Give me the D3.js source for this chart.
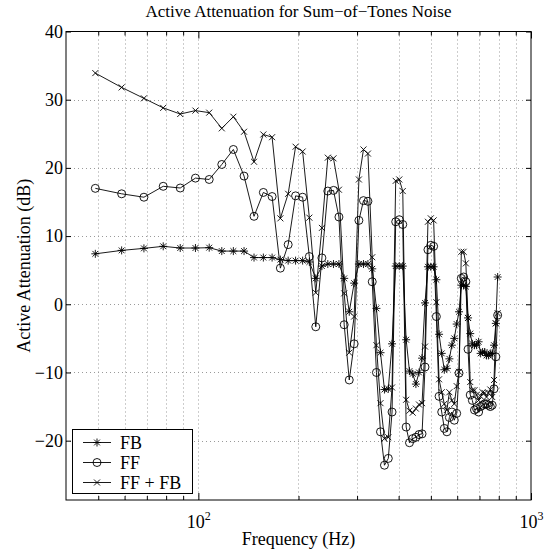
<!DOCTYPE html>
<html><head><meta charset="utf-8">
<script src="https://cdn.jsdelivr.net/npm/d3@7"></script>
<style>
html,body{margin:0;padding:0;background:#fff;}
</style></head>
<body><svg id="chart" width="548" height="554"></svg>
<script>
// Frequencies (Hz) of the tones
const freq = [49, 58.8, 68.6, 78.4, 88.2, 98, 107.8, 117.6, 127.4, 137.2,
  147, 156.8, 166.6, 176.4, 186.2, 196, 205.8, 215.6, 225.4, 235.2,
  245, 254.8, 264.6, 274.4, 284.2, 294, 303.8, 313.6, 323.4, 333.2,
  343, 352.8, 362.6, 372.4, 382.2, 392, 401.8, 411.6, 421.4, 431.2,
  441, 450.8, 460.6, 470.4, 480.2, 490, 499.8, 509.6, 519.4, 529.2,
  539, 548.8, 558.6, 568.4, 578.2, 588, 597.8, 607.6, 617.4, 627.2,
  637, 646.8, 656.6, 666.4, 676.2, 686, 695.8, 705.6, 715.4, 725.2,
  735, 744.8, 754.6, 764.4, 774.2, 784, 793.8];
const fb = [7.4, 7.9, 8.2, 8.5, 8.25, 8.25, 8.3, 7.8, 7.8, 7.8,
  6.85, 6.85, 6.85, 6.55, 6.4, 6.4, 6.4, 6.2, 3.8, 5.6,
  5.9, 5.9, 5.9, 3.8, -1.1, 3.1, 5.9, 5.9, 5.9, 5.2,
  -0.6, -7.1, -12.5, -12.4, -5.8, 5.6, 5.6, 5.6, -5.2, -9.8,
  -10.2, -11.7, -10.0, -7.9, 0.2, 5.5, 5.5, 5.5, 3.6, -4.4,
  -7.2, -9.6, -9.4, -8.0, -6.0, -5.0, -2.9, -1.1, 2.8, 2.8,
  2.6, -2.0, -4.3, -5.8, -6.0, -6.0, -5.5, -7.2, -7.0, -7.0,
  -7.5, -7.5, -7.2, -7.2, -6.0, -2.8, 4.0];
const ff = [17.0, 16.2, 15.7, 17.3, 17.05, 18.5, 18.3, 20.5, 22.7, 18.8,
  12.9, 16.4, 15.8, 5.3, 8.75, 15.9, 15.7, 7.0, -3.3, 6.8,
  16.6, 16.7, 12.8, -3.0, -11.1, -5.8, 12.3, 15.2, 15.1, 3.3,
  -10.0, -18.7, -23.6, -22.6, -15.8, 12.1, 12.4, 11.7, -18.0, -20.3,
  -19.7, -19.5, -19.1, -19.0, -9.2, 8.0, 8.65, 8.5, -1.8, -13.5,
  -15.8, -18.2, -18.7, -16.6, -15.8, -17.0, -16.0, -10.1, 3.8, 4.0,
  3.3, -6.6, -13.3, -14.1, -15.5, -15.3, -15.8, -15.0, -14.8, -14.6,
  -14.6, -14.8, -15.0, -14.8, -12.4, -7.7, -1.6];
const fffb = [33.9, 31.8, 30.2, 28.8, 27.9, 28.4, 28.1, 25.8, 27.5, 25.3,
  20.9, 24.9, 24.5, 12.6, 16.2, 23.1, 22.4, 12.7, 1.7, 11.2,
  21.5, 21.4, 16.8, 1.6, -7.1, -1.8, 18.3, 22.7, 22.1, 6.9,
  -6.0, -14.5, -19.7, -19.5, -12.2, 18.1, 18.3, 16.6, -14.0, -15.6,
  -15.9, -15.3, -14.7, -14.5, -6.2, 12.1, 12.6, 12.3, 0.3, -11.0,
  -12.9, -14.6, -15.5, -12.9, -14.1, -14.6, -12.0, -9.9, 7.7, 7.7,
  6.0, -2.0, -11.4, -12.6, -12.6, -13.3, -14.1, -13.5, -12.9, -13.0,
  -13.6, -13.0, -12.5, -13.6, -11.1, -2.8, -1.3];
const seriesNames = ["FB", "FF", "FF + FB"];
const seriesMarkers = ["star", "circle", "cross"];
const yTicks = [-20, -10, 0, 10, 20, 30, 40];
const yTickLabels = ["\u221220", "\u221210", "0", "10", "20", "30", "40"];
const xMajor = [100, 1000];
const xMajorExp = ["2", "3"];
const xMinor = [50, 60, 70, 80, 90, 200, 300, 400, 500, 600, 700, 800, 900];
const titleText = "Active Attenuation for Sum\u2212of\u2212Tones Noise";
const xLabelText = "Frequency (Hz)";
const yLabelText = "Active Attenuation (dB)";

const FONT = "'Liberation Serif', 'DejaVu Serif', 'Noto Serif', 'Times New Roman', Times, serif";
const svg = d3.select("#chart");
const L = 66, R = 531, T = 31.5, B = 500;
const x = d3.scaleLog().domain([40, 1000]).range([L, R]);
const y = d3.scaleLinear().domain([-28.7, 40]).range([B, T]);
const FS = 18;

// grid
const grid = svg.append("g").attr("stroke", "#9a9a9a").attr("stroke-width", 1).attr("stroke-dasharray", "1,3");
xMinor.concat([100]).forEach(v => {
  grid.append("line").attr("x1", Math.round(x(v)) + 0.5).attr("x2", Math.round(x(v)) + 0.5).attr("y1", T).attr("y2", B);
});
yTicks.filter(v => v < 40).forEach(v => {
  grid.append("line").attr("x1", L).attr("x2", R).attr("y1", Math.round(y(v)) + 0.5).attr("y2", Math.round(y(v)) + 0.5);
});

// axes with inward ticks
const gl = svg.append("g").attr("transform", `translate(${L},0)`)
  .call(d3.axisLeft(y).tickValues(yTicks).tickSize(-5).tickPadding(3).tickFormat((d, i) => yTickLabels[i]));
const gr = svg.append("g").attr("transform", `translate(${R},0)`)
  .call(d3.axisRight(y).tickValues(yTicks).tickSize(-5).tickFormat(""));
const gb = svg.append("g").attr("transform", `translate(0,${B})`)
  .call(d3.axisBottom(x).tickValues(xMajor).tickSize(-7).tickFormat(""));
const gbm = svg.append("g").attr("transform", `translate(0,${B})`)
  .call(d3.axisBottom(x).tickValues(xMinor).tickSize(-4).tickFormat(""));
const gt = svg.append("g").attr("transform", `translate(0,${T})`)
  .call(d3.axisTop(x).tickValues(xMajor).tickSize(-7).tickFormat(""));
const gtm = svg.append("g").attr("transform", `translate(0,${T})`)
  .call(d3.axisTop(x).tickValues(xMinor).tickSize(-4).tickFormat(""));
[gl, gr, gb, gbm, gt, gtm].forEach(g => { g.select(".domain").remove(); g.selectAll("line").attr("stroke", "#000"); g.attr("font-family", FONT); });
gl.selectAll("text").attr("font-size", FS).attr("font-family", FONT).attr("fill", "#000");

// x tick labels 10^n
xMajor.forEach((v, i) => {
  const t = svg.append("text").attr("x", x(v) + 0.5).attr("y", 528).attr("text-anchor", "middle")
    .attr("font-size", FS).attr("font-family", FONT).attr("fill", "#000");
  t.append("tspan").text("10");
  t.append("tspan").attr("dy", -8).attr("font-size", 12).text(xMajorExp[i]);
});

// box
svg.append("rect").attr("x", L).attr("y", T).attr("width", R - L).attr("height", B - T)
  .attr("fill", "none").attr("stroke", "#000").attr("stroke-width", 1);

// clip
svg.append("clipPath").attr("id", "clip").append("rect").attr("x", L).attr("y", T).attr("width", R - L).attr("height", B - T);

function drawMarker(g, type, cx, cy) {
  if (type === "circle") {
    g.append("circle").attr("cx", cx).attr("cy", cy).attr("r", 4).attr("fill", "none").attr("stroke", "#000").attr("stroke-width", 0.9);
  } else if (type === "cross") {
    const s = 3;
    g.append("path").attr("d", `M${cx - s},${cy - s}L${cx + s},${cy + s}M${cx - s},${cy + s}L${cx + s},${cy - s}`).attr("stroke", "#000").attr("stroke-width", 0.9);
  } else {
    const s = 4, d = 2.9;
    g.append("path").attr("d", `M${cx},${cy - s}L${cx},${cy + s}M${cx - s},${cy}L${cx + s},${cy}M${cx - d},${cy - d}L${cx + d},${cy + d}M${cx - d},${cy + d}L${cx + d},${cy - d}`).attr("stroke", "#000").attr("stroke-width", 0.9);
  }
}

const data = [fb, ff, fffb];
const plot = svg.append("g").attr("clip-path", "url(#clip)");
const line = d3.line().x(d => x(d[0])).y(d => y(d[1]));
data.forEach((vals, si) => {
  const pts = freq.map((f, i) => [f, vals[i]]);
  plot.append("path").attr("d", line(pts)).attr("fill", "none").attr("stroke", "#000").attr("stroke-width", 0.9);
  const mg = plot.append("g");
  pts.forEach(p => drawMarker(mg, seriesMarkers[si], x(p[0]), y(p[1])));
});

// legend
const lg = svg.append("g");
lg.append("rect").attr("x", 72.5).attr("y", 429.5).attr("width", 120).attr("height", 64).attr("fill", "#fff").attr("stroke", "#000").attr("stroke-width", 1);
seriesNames.forEach((n, i) => {
  const yy = 442.5 + i * 20;
  lg.append("line").attr("x1", 83).attr("x2", 111).attr("y1", yy).attr("y2", yy).attr("stroke", "#000").attr("stroke-width", 0.9);
  drawMarker(lg, seriesMarkers[i], 97, yy);
  lg.append("text").attr("x", 120).attr("y", yy + 6).attr("font-size", FS).attr("font-family", FONT).attr("fill", "#000").text(n);
});

// titles
svg.append("text").attr("x", (L + R) / 2).attr("y", 17).attr("text-anchor", "middle").attr("font-size", 17).attr("font-family", FONT).attr("fill", "#000").text(titleText);
svg.append("text").attr("x", (L + R) / 2).attr("y", 545).attr("text-anchor", "middle").attr("font-size", FS).attr("font-family", FONT).attr("fill", "#000").text(xLabelText);
svg.append("text").attr("transform", `translate(30,${(T + B) / 2}) rotate(-90)`).attr("text-anchor", "middle").attr("font-size", FS).attr("font-family", FONT).attr("fill", "#000").text(yLabelText);
</script></body></html>
